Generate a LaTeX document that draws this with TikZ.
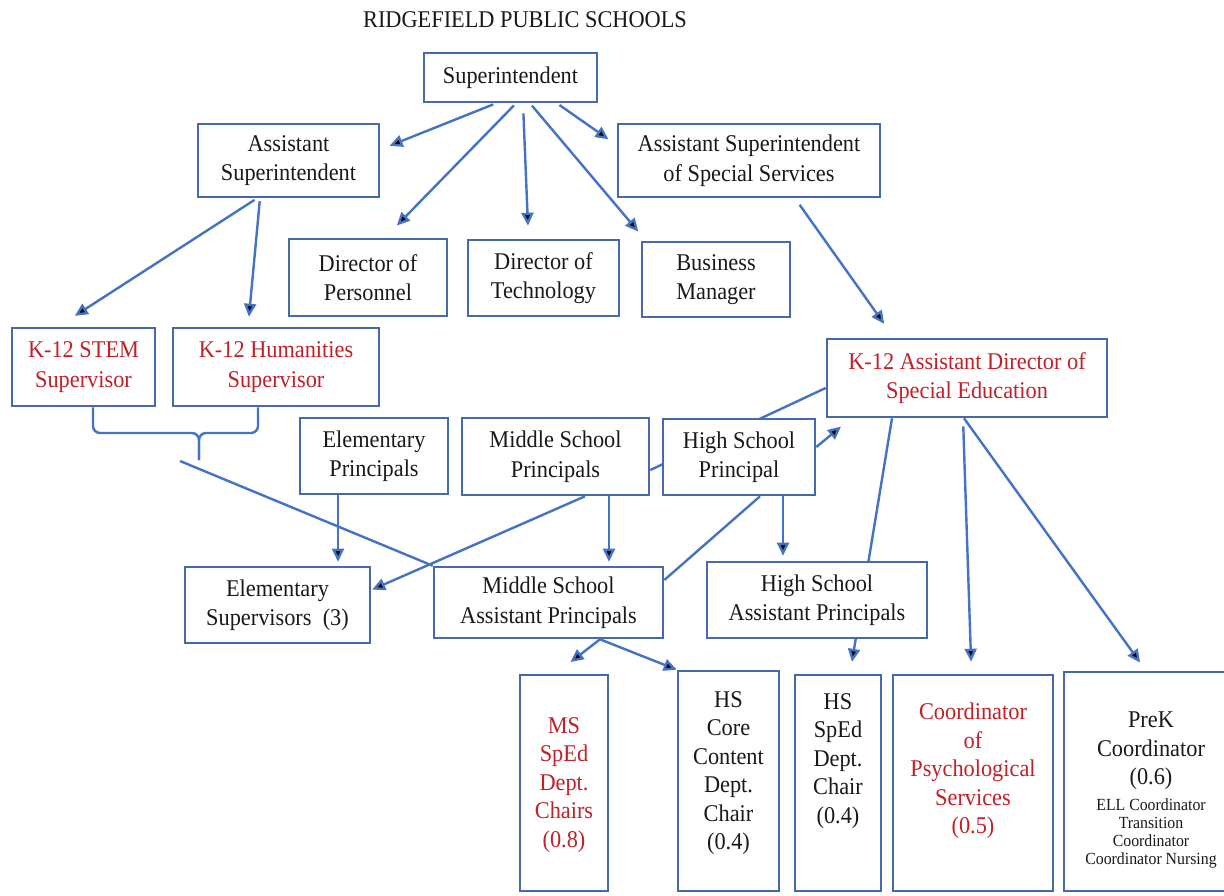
\documentclass[tikz,border=0pt]{standalone}
\usepackage{fontspec}
\setmainfont{Liberation Serif}[FakeStretch=0.93]
\usetikzlibrary{arrows.meta,positioning,backgrounds}

\definecolor{boxblue}{RGB}{70,104,172}
\definecolor{linkblue}{RGB}{68,114,196}
\definecolor{supred}{RGB}{192,32,40}

\tikzset{
  office/.style={draw=boxblue,line width=2.6pt,fill=white,align=center,inner sep=0pt,
    text=black!90,font=\fontsize{24}{29.5}\selectfont},
  redoffice/.style={office,text=supred},
  chairbox/.style={draw=boxblue,line width=2.6pt,fill=white,inner sep=0pt},
  chairtext/.style={align=center,inner sep=0pt,text=black!90,font=\fontsize{24}{28.5}\selectfont},
  smalltext/.style={align=center,inner sep=0pt,text=black!90,font=\fontsize{17}{18}\selectfont},
  link/.style={draw=linkblue,line width=2.4pt},
  feed/.style={link,every edge/.append style={->}},
}

\begin{document}
\begin{tikzpicture}[x=1pt,y=-1pt,>={Triangle[length=13pt,width=12pt]}]

                \begin{scope}[on background layer]
                \fill[white] (0,0) rectangle (1224,895);
                \end{scope}
                \useasboundingbox (0,0) rectangle (1224,895);

                \node[font=\fontsize{24}{29}\selectfont,text=black!90] (title) at (525,20) {RIDGEFIELD PUBLIC SCHOOLS};

                \node[office,minimum width=173,minimum height=49] (sup) at (510.5,77.5) {Superintendent};
                \node[office,minimum width=181,minimum height=73] (asup) at (288.5,160.5) {Assistant\\Superintendent};
                \node[office,minimum width=262,minimum height=73] (asss) at (749,160.5) {Assistant Superintendent\\of Special Services};
                \node[office,minimum width=158,minimum height=77] (dpers) at (368,277.5) {Director of\\Personnel};
                \node[office,minimum width=151,minimum height=76] (dtech) at (543.5,278) {Director of\\Technology};
                \node[office,minimum width=148,minimum height=75] (busmgr) at (716,279.5) {Business\\Manager};

                \node[redoffice,minimum width=143,minimum height=78] (stem) at (83.5,367) {K-12 STEM\\Supervisor};
                \node[redoffice,minimum width=206,minimum height=78] (hum) at (276,367) {K-12 Humanities\\Supervisor};
                \node[redoffice,minimum width=280,minimum height=78] (spedad) at (967,378) {K-12 Assistant Director of\\Special Education};

                \node[office,minimum width=148,minimum height=76] (eprin) at (374,456) {Elementary\\Principals};
                \node[office,minimum width=187,minimum height=77] (mprin) at (555.5,456.5) {Middle School\\Principals};
                \node[office,minimum width=152,minimum height=76] (hprin) at (739,457) {High School\\Principal};

                \node[office,minimum width=185,minimum height=76] (esup) at (277.5,605) {Elementary\\Supervisors\ \ (3)};
                \node[office,minimum width=229,minimum height=71] (msap) at (548.5,602.5) {Middle School\\Assistant Principals};
                \node[office,minimum width=220,minimum height=76] (hsap) at (817,600) {High School\\Assistant Principals};

                % chairs and coordinators, cut off by the page edge
                \node[chairbox,minimum width=88,minimum height=216] (mssped) at (564,783) {};
                \node[chairbox,minimum width=101,minimum height=220] (hscore) at (728.5,781) {};
                \node[chairbox,minimum width=86,minimum height=216] (hssped) at (838,783) {};
                \node[chairbox,minimum width=160,minimum height=216] (psych) at (973,783) {};
                \node[chairbox,minimum width=174,minimum height=219] (prek) at (1151,781.5) {};

                \node[chairtext,text=supred] (msspedtext) at (564,785) {MS\\SpEd\\Dept.\\Chairs\\(0.8)};
                \node[chairtext] (hscoretext) at (728.5,773) {HS\\Core\\Content\\Dept.\\Chair\\(0.4)};
                \node[chairtext] (hsspedtext) at (838,761) {HS\\SpEd\\Dept.\\Chair\\(0.4)};
                \node[chairtext,text=supred] (psychtext) at (973,771) {Coordinator\\of\\Psychological\\Services\\(0.5)};
                \node[chairtext] (prektext) at (1151,751) {PreK\\Coordinator\\(0.6)};
                \node[smalltext,below=8pt of prektext] (prekmore) {ELL Coordinator\\Transition\\Coordinator\\Coordinator Nursing};

                \path[feed,shorten <=3pt]
                    ([xshift=-14.5]sup.south) edge[shorten >=10pt] ([yshift=11]asup.east)
                    ([xshift=5.5]sup.south) edge[shorten >=17pt] ([xshift=17]dpers.north)
                    ([xshift=12.5]sup.south) edge[shorten <=10pt,shorten >=13pt] ([xshift=-15]dtech.north)
                    ([xshift=19.5]sup.south) edge[shorten >=12pt] ([xshift=-70]busmgr.north)
                    ([xshift=46.5]sup.south) edge[shorten >=10pt] ([yshift=15.5]asss.west)
                    ([xshift=-31.5]asup.south) edge[shorten >=20pt] ([xshift=-25.5]stem.north)
                    ([xshift=-28.5]asup.south) edge[shorten >=10pt] ([xshift=-28]hum.north)
                    ([xshift=46]asss.south) edge[shorten <=8pt,shorten >=17pt] ([xshift=-73]spedad.north);

                \path[feed]
                    ([xshift=-36]eprin.south) edge[shorten >=4pt] ([xshift=-36]eprin.south |- esup.north)
                    ([xshift=53.5]mprin.south) edge[shorten >=4pt] ([xshift=53.5]mprin.south |- msap.north)
                    ([xshift=44]hprin.south) edge[shorten >=5pt] ([xshift=44]hprin.south |- hsap.north)
                    ([xshift=29.5]mprin.south) edge[shorten >=1pt] ([yshift=15]esup.east)
                    ([yshift=10]hprin.east) edge[shorten >=13pt] ([xshift=-116]spedad.south);
                \draw[link] ([xshift=21]hprin.south) -- ([yshift=22.5]msap.east);

                % lines that run behind the boxes
                \begin{scope}[on background layer]
                \draw[link] ([yshift=-10]spedad.west) -- ([yshift=-13.5]mprin.east);
                \path[feed] ([xshift=-75]spedad.south) edge[shorten >=12pt] ([xshift=12]hssped.north);
                \end{scope}

                \path[feed]
                    ([xshift=51.5]msap.south) edge[shorten >=19pt] ([xshift=-8.5]mssped.north)
                                              edge (hscore.north west)
                    ([xshift=-4]spedad.south) edge[shorten <=8pt,shorten >=12pt] ([xshift=-1.5]psych.north)
                    ([xshift=-3]spedad.south) edge[shorten >=10pt] ([xshift=-5]prek.north);

                % supervisors joined into one line
                \coordinate (brk) at (199,460);
                \draw[link,rounded corners=7] ([xshift=9.5]stem.south) |- ([yshift=27]brk) -- (brk);
                \draw[link,rounded corners=7] ([xshift=-18]hum.south) |- ([yshift=27]brk) -- (brk);
                \draw[link] ([xshift=-19,yshift=-1]brk) -- (msap.north west);

            \end{tikzpicture}
\end{document}
